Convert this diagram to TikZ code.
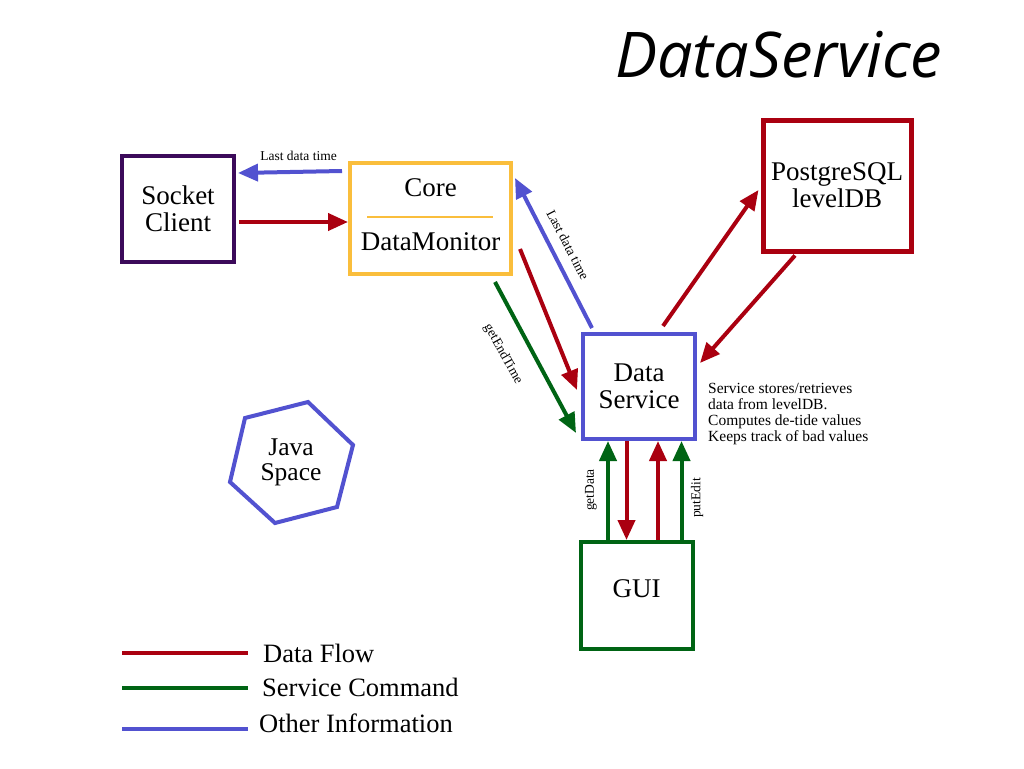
\documentclass[tikz,border=0pt]{standalone}
\usepackage{fontspec}
\setmainfont{Liberation Serif}
\newfontfamily\titlefont{Open Sans}
\usetikzlibrary{arrows.meta,calc}
\definecolor{dred}{RGB}{170,0,16}
\definecolor{dgreen}{RGB}{0,100,20}
\definecolor{iblue}{RGB}{82,82,208}
\definecolor{corey}{RGB}{250,190,60}
\definecolor{dpurple}{RGB}{60,10,90}
\tikzset{
  box/.style={draw,line width=4pt,inner sep=0pt,fill=white,align=center,
    font=\fontsize{27}{27}\selectfont},
  conn/.style={line width=4pt,-{Triangle[length=20pt,width=17pt]}},
  small/.style={inner sep=0pt,font=\fontsize{13.5}{14}\selectfont},
  legtext/.style={anchor=base west,inner sep=0pt,font=\fontsize{26.5}{27}\selectfont},
  legline/.style={line width=4pt}
}
\begin{document}
\begin{tikzpicture}[x=1pt,y=-1pt]
\useasboundingbox[fill=white] (0,0) rectangle (1024,768);
% title
\node[anchor=base west,inner sep=0pt] (title) at (615,77)
  {\resizebox{327pt}{!}{\titlefont\itshape\fontsize{54}{54}\selectfont DataService}};
% boxes
\node[box,draw=dpurple,minimum width=112pt,minimum height=106pt] (sock) at (178,209) {Socket\\Client};
\node[box,draw=corey,minimum width=161pt,minimum height=111pt] (core) at (430.5,218.5) {};
\node[inner sep=0pt,anchor=base,font=\fontsize{27}{27}\selectfont] (coret) at (430.5,196) {Core};
\node[inner sep=0pt,anchor=base,font=\fontsize{27}{27}\selectfont] (dmt) at (430.5,250) {DataMonitor};
\draw[corey,line width=2pt] ($(core.west)+(19,-1.5)$) coordinate (dl) -- ($(core.east)+(-20,-1.5)$) coordinate (dr);
\node[box,draw=dred,line width=5pt,minimum width=148pt,minimum height=131pt] (pg) at (837,185.5) {PostgreSQL\\levelDB};
\node[box,draw=iblue,minimum width=112pt,minimum height=105pt] (ds) at (639,386.5) {Data\\Service};
\node[box,draw=dgreen,minimum width=112pt,minimum height=107pt] (gui) at (636.5,595.5) {};
\node[inner sep=0pt,anchor=base,font=\fontsize{27}{27}\selectfont] (guit) at (636.5,597) {GUI};
% java space hexagon
\draw[iblue,line width=4pt,line join=miter] (245,418) coordinate (h1) -- (308,402) coordinate (h2)
  -- (353,445) coordinate (h3) -- (337,507) coordinate (h4) -- (275,523) coordinate (h5)
  -- (230,482) coordinate (h6) -- cycle;
\node[align=center,inner sep=0pt,font=\fontsize{25.5}{25}\selectfont] (java) at (291,462) {Java\\Space};
% connectors
\draw[conn,iblue] ($(core.west)+(-6,-47.5)$) -- ($(sock.east)+(2,-36)$);
\node[small] (l1) at (298.5,156) {Last data time};
\draw[conn,dred] ($(sock.east)+(3,13)$) -- ($(core.west)+(0,3.5)$);
\draw[conn,iblue] ($(ds.north west)+(11,-4)$) -- ($(core.north east)+(2,17)$);
\node[small,rotate=-62.4] (l2) at (568,245) {Last data time};
\draw[conn,dred] ($(core.south east)+(7,-27)$) -- ($(ds.west)+(-4,3.5)$);
\draw[conn,dgreen] ($(core.south east)+(-18,6)$) -- ($(ds.south west)+(-5,-8)$);
\node[small,rotate=-61] (l3) at (503,354) {getEndTime};
\draw[conn,dred] ($(ds.north)+(24,-6)$) -- ($(pg.west)+(-2,4.5)$);
\draw[conn,dred] ($(pg.south)+(-42,2)$) -- ($(ds.east)+(3,-23.5)$);
\draw[conn,dgreen] ($(gui.north)+(-28.5,0)$) -- ($(ds.south)+(-31,0)$);
\node[small,rotate=90] (l4) at (591,490) {getData};
\draw[conn,dred] ($(ds.south)+(-12.5,0)$) -- ($(gui.north)+(-10,0)$);
\draw[conn,dred] ($(gui.north)+(21.5,0)$) -- ($(ds.south)+(19,0)$);
\draw[conn,dgreen] ($(gui.north)+(45,0)$) -- ($(ds.south)+(42.5,0)$);
\node[small,rotate=90] (l5) at (697,498) {putEdit};
% annotation
\node[anchor=north west,align=left,inner sep=0pt,font=\fontsize{15.5}{16}\selectfont] (note) at (708,383)
  {Service stores/retrieves\\data from levelDB.\\Computes de-tide values\\Keeps track of bad values};
% legend
\draw[legline,dred] (122,652.5) coordinate (a1) -- (248,652.5) coordinate (a2);
\draw[legline,dgreen] (122,688) coordinate (b1) -- (248,688) coordinate (b2);
\draw[legline,iblue] (122,729) coordinate (c1) -- (248,729) coordinate (c2);
\node[legtext] (t1) at (263,662) {Data Flow};
\node[legtext] (t2) at (262,696) {Service Command};
\node[legtext] (t3) at (259,732) {Other Information};
\end{tikzpicture}
\end{document}
